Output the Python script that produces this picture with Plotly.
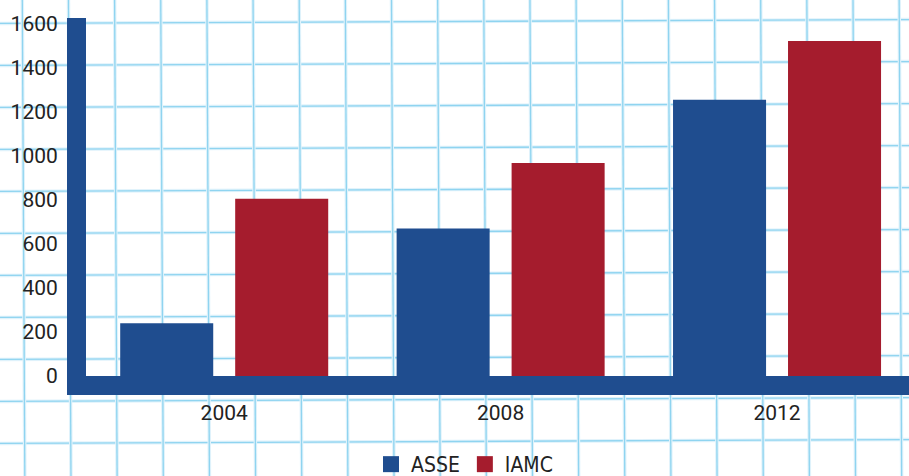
import plotly.graph_objects as go

# ---- data ----
years = ["2004", "2008", "2012"]
asse = [240, 670, 1255]
iamc = [805, 968, 1523]
y_ticks = [0, 200, 400, 600, 800, 1000, 1200, 1400, 1600]

# ---- style ----
W, H = 909, 476
BLUE = "#1f4d8f"
RED = "#a51c2d"
GRID = "#8fd4f0"
HALO = "#dff2fb"
TICKFONT = dict(family="Roboto, DejaVu Sans", size=21, color="#222222")


def px(x):
    return x / W


def py(y):
    return 1 - y / H


fig = go.Figure()
fig.add_bar(x=years, y=asse, name="ASSE", marker=dict(color=BLUE, line_width=0), showlegend=False)
fig.add_bar(x=years, y=iamc, name="IAMC", marker=dict(color=RED, line_width=0), showlegend=False)
# legend proxies
fig.add_scatter(x=[None], y=[None], mode="markers", name="ASSE",
                marker=dict(symbol="square", size=16, color=BLUE))
fig.add_scatter(x=[None], y=[None], mode="markers", name="IAMC",
                marker=dict(symbol="square", size=16, color=RED))

# graph-paper background (slightly rotated)
shapes = []
for k in range(0, 11):
    y0 = 23.4 + 42 * k
    y1 = y0 - 0.0042 * W
    for col, w in ((HALO, 3.5), (GRID, 1.3)):
        shapes.append(dict(type="line", xref="paper", yref="paper", layer="below",
                           x0=0, x1=1, y0=py(y0), y1=py(y1), line=dict(color=col, width=w)))
for k in range(0, 20):
    x0 = 22.3 + 46.15 * k
    x1 = x0 + 0.0053 * H
    for col, w in ((HALO, 3.5), (GRID, 1.3)):
        shapes.append(dict(type="line", xref="paper", yref="paper", layer="below",
                           x0=px(x0), x1=px(x1), y0=1, y1=0, line=dict(color=col, width=w)))

fig.update_layout(
    width=W, height=H,
    margin=dict(l=0, r=0, t=0, b=0, pad=0, autoexpand=False),
    paper_bgcolor="white",
    plot_bgcolor="rgba(0,0,0,0)",
    barmode="group",
    bargap=0.168,
    bargroupgap=0.191,
    shapes=shapes,
    showlegend=True,
    legend=dict(orientation="h", x=px(371), y=py(444), xanchor="left", yanchor="top",
                font=dict(family="DejaVu Sans Condensed, DejaVu Sans", size=21, color="#222222"),
                bgcolor="rgba(0,0,0,0)", itemclick=False, itemdoubleclick=False),
    xaxis=dict(type="category", domain=[px(86), 1], range=[-0.5, 2.4774],
               showline=True, linewidth=19, linecolor=BLUE, showgrid=False, zeroline=False,
               ticks="", tickfont=TICKFONT, ticklabelstandoff=0, automargin=False),
    yaxis=dict(domain=[py(376), py(18)], range=[0, 1627],
               tickvals=y_ticks, ticktext=[str(v) for v in y_ticks],
               showline=True, linewidth=19, linecolor=BLUE, showgrid=False, zeroline=False,
               ticks="", tickfont=TICKFONT, ticklabelstandoff=5, automargin=False),
)

fig.write_html("out.html", config={"displayModeBar": False},
               post_script="document.body.style.margin='0';document.body.style.overflow='hidden';")
